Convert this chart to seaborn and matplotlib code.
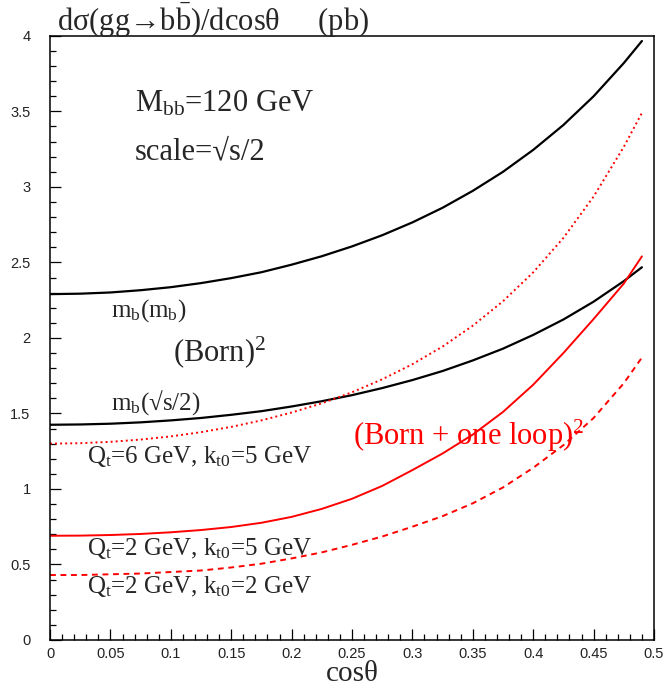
import numpy as np
import matplotlib
matplotlib.use("Agg")
import matplotlib.pyplot as plt
import seaborn as sns
from matplotlib.ticker import MultipleLocator, FuncFormatter

# cos(theta) sampling points
COS_THETA = [0.0, 0.025, 0.05, 0.075, 0.1, 0.125, 0.15, 0.175, 0.2, 0.225, 0.25,
             0.275, 0.3, 0.325, 0.35, 0.375, 0.4, 0.425, 0.45, 0.475, 0.49]

# (Born)^2, m_b(m_b)
BORN_MB_MB = [2.29, 2.293, 2.301, 2.316, 2.336, 2.363, 2.396, 2.435, 2.485, 2.541, 2.606,
              2.68, 2.765, 2.862, 2.974, 3.10, 3.245, 3.41, 3.60, 3.82, 3.966]
# (Born)^2, m_b(sqrt(s)/2)
BORN_MB_SQRTS = [1.425, 1.427, 1.432, 1.441, 1.454, 1.470, 1.491, 1.515, 1.546, 1.581, 1.621,
                 1.668, 1.721, 1.781, 1.851, 1.929, 2.02, 2.122, 2.24, 2.376, 2.468]
# (Born + one loop)^2
LOOP_Q6_K5 = [1.30, 1.303, 1.312, 1.327, 1.348, 1.376, 1.411, 1.454, 1.506, 1.567, 1.64,
              1.726, 1.826, 1.943, 2.081, 2.243, 2.434, 2.662, 2.936, 3.265, 3.49]
LOOP_Q2_K5 = [0.69, 0.691, 0.695, 0.702, 0.713, 0.728, 0.748, 0.776, 0.815, 0.868, 0.935,
              1.02, 1.125, 1.235, 1.36, 1.51, 1.69, 1.90, 2.125, 2.36, 2.54]
LOOP_Q2_K2 = [0.43, 0.43, 0.435, 0.44, 0.45, 0.46, 0.48, 0.505, 0.54, 0.58, 0.63,
              0.685, 0.75, 0.82, 0.905, 1.01, 1.14, 1.29, 1.47, 1.70, 1.87]

sns.set_style("ticks")
plt.rcParams["font.family"] = ["Liberation Serif", "DejaVu Serif"]
plt.rcParams["mathtext.fontset"] = "custom"
plt.rcParams["mathtext.rm"] = "Liberation Serif"
plt.rcParams["mathtext.it"] = "Liberation Serif:italic"
plt.rcParams["mathtext.bf"] = "Liberation Serif:bold"

fig = plt.figure(figsize=(6.67, 6.90), dpi=100)
ax = fig.add_axes([0.075, 0.0725, 0.9055, 0.8755])

RED = "#ff0000"
sns.lineplot(x=COS_THETA, y=BORN_MB_MB, color="black", linewidth=1.6, ax=ax)
sns.lineplot(x=COS_THETA, y=BORN_MB_SQRTS, color="black", linewidth=1.6, ax=ax)
sns.lineplot(x=COS_THETA, y=LOOP_Q6_K5, color=RED, linewidth=1.4,
             linestyle=(0, (1.0, 1.6)), ax=ax)
sns.lineplot(x=COS_THETA, y=LOOP_Q2_K5, color=RED, linewidth=1.4, ax=ax)
sns.lineplot(x=COS_THETA, y=LOOP_Q2_K2, color=RED, linewidth=1.4,
             linestyle=(0, (3.0, 2.4)), ax=ax)

ax.set_xlim(0, 0.5)
ax.set_ylim(0, 4)
ax.xaxis.set_major_locator(MultipleLocator(0.05))
ax.xaxis.set_minor_locator(MultipleLocator(0.01))
ax.yaxis.set_major_locator(MultipleLocator(0.5))
ax.yaxis.set_minor_locator(MultipleLocator(0.1))
fmt = FuncFormatter(lambda v, p: f"{v:g}")
ax.xaxis.set_major_formatter(fmt)
ax.yaxis.set_major_formatter(fmt)
ax.tick_params(which="both", direction="in", top=False, right=False,
               color="black", width=0.9)
ax.tick_params(which="major", length=8)
ax.tick_params(which="minor", length=4.3)
ax.tick_params(axis="y", pad=14)
ax.tick_params(axis="x", pad=5)
for lab in ax.get_xticklabels() + ax.get_yticklabels():
    lab.set_family("Liberation Sans")
    lab.set_fontsize(10.5)
    lab.set_color("#222222")
for sp in ax.spines.values():
    sp.set_visible(True)
    sp.set_linewidth(1.1)
    sp.set_color("black")

ax.set_xlabel("cosθ", fontsize=21, labelpad=0)
ax.set_ylabel("")

fig.text(0.085, 0.955, r"dσ(gg→b$\bar{\mathrm{b}}$)/dcosθ     (pb)",
         fontsize=22, va="baseline", ha="left")

big = 22
small = 18
ax.text(0.0704, 3.497, r"M$_{\mathrm{bb}}$=120 GeV", fontsize=big, va="baseline")
ax.text(0.0704, 3.185, "scale=√s/2", fontsize=big, va="baseline")
ax.text(0.0505, 2.139, r"m$_{\mathrm{b}}$(m$_{\mathrm{b}}$)", fontsize=small, va="baseline")
ax.text(0.1018, 1.848, r"(Born)$^{\mathrm{2}}$", fontsize=big, va="baseline")
ax.text(0.0505, 1.523, r"m$_{\mathrm{b}}$(√s/2)", fontsize=small, va="baseline")
ax.text(0.0306, 1.172, r"Q$_{\mathrm{t}}$=6 GeV, k$_{\mathrm{t0}}$=5 GeV",
        fontsize=small, va="baseline")
ax.text(0.0306, 0.563, r"Q$_{\mathrm{t}}$=2 GeV, k$_{\mathrm{t0}}$=5 GeV",
        fontsize=small, va="baseline")
ax.text(0.0306, 0.311, r"Q$_{\mathrm{t}}$=2 GeV, k$_{\mathrm{t0}}$=2 GeV",
        fontsize=small, va="baseline")
ax.text(0.2508, 1.291, r"(Born + one loop)$^{\mathrm{2}}$", fontsize=22,
        va="baseline", color=RED)

fig.savefig("out.png", dpi=100)
